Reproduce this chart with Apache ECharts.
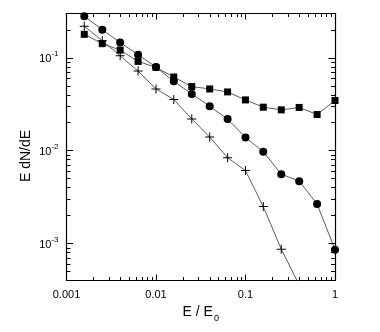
<!DOCTYPE html>
<html><head><meta charset="utf-8">
<script src="https://cdn.jsdelivr.net/npm/echarts@6/dist/echarts.min.js"></script>
<style>html,body{margin:0;padding:0;background:#fff}#c{width:380px;height:332px}</style>
</head><body><div id="c"></div>
<script>
// ---- data ----
const energies = [0.00158, 0.00251, 0.00398, 0.00631, 0.01, 0.0158, 0.0251, 0.0398, 0.0631, 0.1, 0.158, 0.251, 0.398, 0.631, 1.0];
const circles  = [0.28, 0.201, 0.146, 0.108, 0.0795, 0.0558, 0.0408, 0.0301, 0.0219, 0.0139, 0.00976, 0.00558, 0.0047, 0.00266, 0.00086];
const squares  = [0.179, 0.142, 0.121, 0.0915, 0.0789, 0.0621, 0.049, 0.0462, 0.0429, 0.0352, 0.0294, 0.0275, 0.0292, 0.0245, 0.0347];
const crosses  = [0.219, 0.153, 0.105, 0.0719, 0.0462, 0.0356, 0.022, 0.014, 0.0084, 0.0061, 0.0025, 0.00087, 0.00036];

const xMajorTicks = [0.001, 0.01, 0.1, 1];
const xMajorLabels = ['0.001', '0.01', '0.1', '1'];
const xMinorTicks = [0.002, 0.003, 0.004, 0.005, 0.006, 0.007, 0.008, 0.009,
                     0.02, 0.03, 0.04, 0.05, 0.06, 0.07, 0.08, 0.09,
                     0.2, 0.3, 0.4, 0.5, 0.6, 0.7, 0.8, 0.9];
const yMajorTicks = [0.001, 0.01, 0.1];
const yMajorExponents = ['-3', '-2', '-1'];
const yMinorTicks = [0.0005, 0.0006, 0.0007, 0.0008, 0.0009,
                     0.002, 0.003, 0.004, 0.005, 0.006, 0.007, 0.008, 0.009,
                     0.02, 0.03, 0.04, 0.05, 0.06, 0.07, 0.08, 0.09, 0.2];
const xMin = 0.001, xMax = 1, yMin = 0.0004, yMax = 0.3;

const chart = echarts.init(document.getElementById('c'), null, {renderer: 'canvas'});
const FONT = 'Liberation Sans, Arial, sans-serif';

function xAxisDef(pos, ticks, len, showLine, labels) {
  return {
    type: 'log', logBase: 10, min: xMin, max: xMax, position: pos,
    axisLine: {show: showLine, onZero: false, lineStyle: {color: '#000', width: 1.2}},
    axisTick: {show: true, inside: true, length: len, customValues: ticks, lineStyle: {color: '#000', width: 1}},
    axisLabel: labels ? {
      show: true, customValues: xMajorTicks, margin: 9, fontSize: 11, fontFamily: FONT, color: '#000',
      formatter: v => { const i = xMajorTicks.findIndex(t => Math.abs(Math.log10(t) - Math.log10(v)) < 1e-6); return i >= 0 ? xMajorLabels[i] : ''; }
    } : {show: false},
    splitLine: {show: false}, minorTick: {show: false}
  };
}
function yAxisDef(pos, ticks, len, showLine, labels) {
  return {
    type: 'log', logBase: 10, min: yMin, max: yMax, position: pos,
    axisLine: {show: showLine, onZero: false, lineStyle: {color: '#000', width: 1.2}},
    axisTick: {show: true, inside: true, length: len, customValues: ticks, lineStyle: {color: '#000', width: 1}},
    axisLabel: labels ? {
      show: true, customValues: yMajorTicks, margin: 8, color: '#000',
      formatter: v => { const i = yMajorTicks.findIndex(t => Math.abs(Math.log10(t) - Math.log10(v)) < 1e-6); return i >= 0 ? '{b|10}{s|' + yMajorExponents[i] + '}' : ''; },
      rich: {
        b: {fontSize: 11, fontFamily: FONT, color: '#000', verticalAlign: 'bottom', lineHeight: 14},
        s: {fontSize: 8, fontFamily: FONT, color: '#000', verticalAlign: 'bottom', lineHeight: 14, padding: [0, 0, 7, 0]}
      }
    } : {show: false},
    splitLine: {show: false}, minorTick: {show: false}
  };
}

const lineStyle = {color: '#333', width: 0.8};
chart.setOption({
  animation: false,
  backgroundColor: '#fff',
  grid: {left: 66.5, right: 45, top: 13.5, bottom: 51.5, containLabel: false},
  xAxis: [
    Object.assign(xAxisDef('bottom', xMajorTicks, 6, true, true), {
      name: '{e|E / E}{sub|0}', nameLocation: 'middle', nameGap: 24,
      nameTextStyle: {rich: {
        e: {fontSize: 14, fontFamily: FONT, color: '#000', verticalAlign: 'top', lineHeight: 16},
        sub: {fontSize: 9, fontFamily: FONT, color: '#000', verticalAlign: 'top', lineHeight: 16, padding: [9, 0, 0, 1]}
      }}
    }),
    xAxisDef('bottom', xMinorTicks, 3.5, false, false),
    xAxisDef('top', xMajorTicks, 6, true, false),
    xAxisDef('top', xMinorTicks, 3.5, false, false)
  ],
  yAxis: [
    yAxisDef('left', yMajorTicks, 6.5, true, true),
    yAxisDef('left', yMinorTicks, 4, false, false),
    yAxisDef('right', yMajorTicks, 6.5, true, false),
    yAxisDef('right', yMinorTicks, 4, false, false)
  ],
  graphic: [{
    type: 'text', x: 26, y: 156, rotation: Math.PI / 2,
    style: {text: 'E dN/dE', fontSize: 14, fontFamily: FONT, fill: '#000', align: 'center', verticalAlign: 'middle'}
  }],
  series: [
    {type: 'line', name: 'squares', data: energies.map((e, i) => [e, squares[i]]),
     symbol: 'rect', symbolSize: 7, showSymbol: true, clip: true,
     itemStyle: {color: '#000'}, lineStyle: lineStyle, z: 3},
    {type: 'line', name: 'circles', data: energies.map((e, i) => [e, circles[i]]),
     symbol: 'circle', symbolSize: 8, clip: true,
     itemStyle: {color: '#000'}, lineStyle: lineStyle, z: 3},
    {type: 'line', name: 'crosses', data: crosses.map((c, i) => [energies[i], c]),
     symbol: 'path://M4,0h1v9h-1z M0,4h9v1h-9z', symbolSize: 9, clip: true,
     itemStyle: {color: '#000'}, lineStyle: lineStyle, z: 3}
  ]
});
</script>
</body></html>
